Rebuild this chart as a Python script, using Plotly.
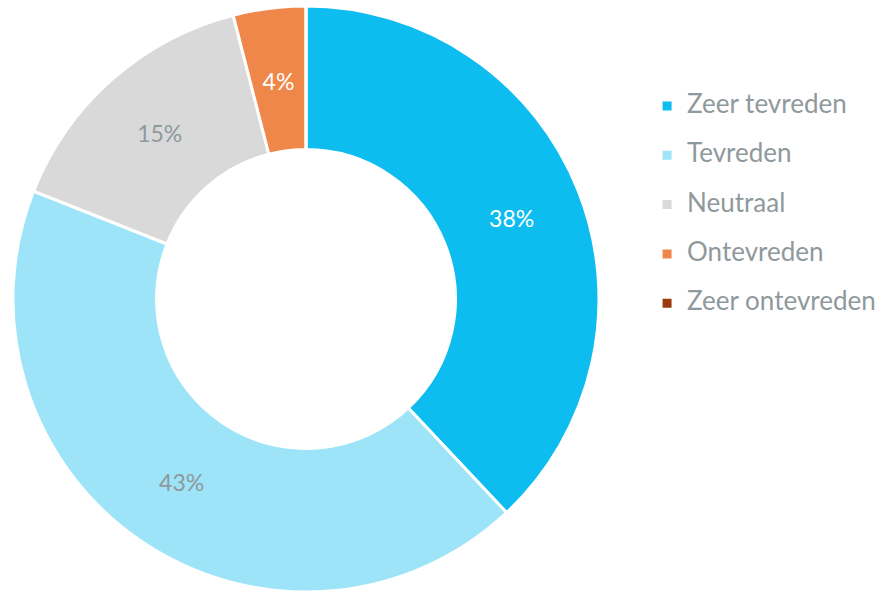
import plotly.graph_objects as go

categories = ["Zeer tevreden", "Tevreden", "Neutraal", "Ontevreden", "Zeer ontevreden"]
values = [38, 43, 15, 4, 0]
colors = ["#0DBDEF", "#9DE4F8", "#D9D9D9", "#F0874A", "#9A3A0E"]
text_colors = ["#FFFFFF", "#8F999C", "#8F999C", "#FFFFFF", "#FFFFFF"]

FONT = "Lato"
legend_labels = ["<span style='font-size:26px'>%s</span><br> " % c for c in categories]

# main donut: labels for the wide slices
main_templates = ["%{percent:.0%}", "%{percent:.0%}", "%{percent:.0%}", "", ""]
# thin slices: label placed at the ring middle via a transparent helper ring
thin_templates = ["", "", "", "%{percent:.0%}", ""]

fig = go.Figure()
fig.add_trace(go.Pie(
    labels=legend_labels,
    values=values,
    hole=0.51,
    sort=False,
    direction="clockwise",
    rotation=0,
    marker=dict(colors=colors, line=dict(color="#FFFFFF", width=3)),
    textinfo="none",
    texttemplate=main_templates,
    textposition="inside",
    insidetextorientation="horizontal",
    textfont=dict(size=23, color=text_colors, family=FONT),
    domain=dict(x=[13/887, 599/887], y=[0, 1 - 6/592]),
    showlegend=True,
    hoverinfo="skip",
))
fig.add_trace(go.Pie(
    labels=legend_labels,
    values=values,
    hole=0.3,
    sort=False,
    direction="clockwise",
    rotation=0,
    marker=dict(colors=["rgba(0,0,0,0)"] * len(values), line=dict(width=0)),
    textinfo="none",
    texttemplate=thin_templates,
    textposition="inside",
    insidetextorientation="horizontal",
    textfont=dict(size=23, color=text_colors, family=FONT),
    domain=dict(x=[59/887, 553/887], y=[46/592, 540/592]),
    showlegend=False,
    hoverinfo="skip",
))

fig.update_layout(
    width=887, height=592,
    margin=dict(l=0, r=0, t=0, b=0),
    paper_bgcolor="white",
    plot_bgcolor="white",
    font=dict(family=FONT, color="#8F999C"),
    legend=dict(
        x=0.7295, y=0.8514, xanchor="left", yanchor="top",
        valign="top",
        font=dict(size=17.8, color="#8F999C", family=FONT),
        bgcolor="rgba(0,0,0,0)",
    ),
)

fig.write_html("out.html", config={"displayModeBar": False},
               post_script="document.body.style.margin='0';")
